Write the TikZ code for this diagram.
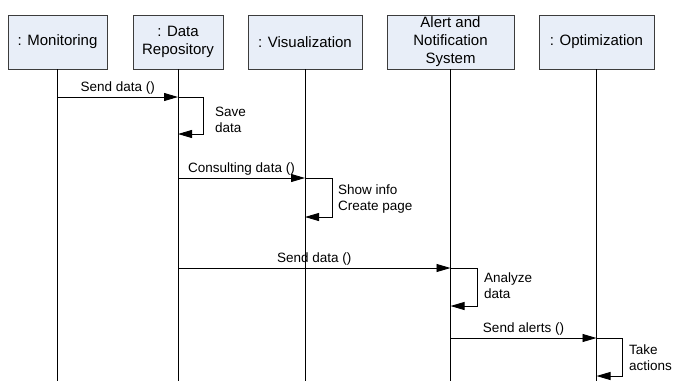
\documentclass[tikz,border=0pt]{standalone}
\usepackage{fontspec}
\setmainfont{Liberation Sans}
\usetikzlibrary{arrows.meta,positioning}
\definecolor{objfill}{RGB}{232,238,248}
\definecolor{objline}{RGB}{60,60,60}

\begin{document}
\begin{tikzpicture}[x=1pt, y=-1pt, >={Triangle[length=14pt,width=8pt]},
  obj/.style={draw=objline,fill=objfill,line width=0.9pt,minimum height=54pt,
              inner sep=2pt,align=center,font=\fontsize{15}{18}\selectfont},
  life/.style={line width=0.9pt},
  msg/.style={->,line width=0.9pt},
  lbl/.style={font=\fontsize{13.5}{16}\selectfont,inner sep=2pt},
  note/.style={lbl,align=left,anchor=west}]
  \useasboundingbox (0,0) rectangle (674,381);
  \node[obj,minimum width=99pt]  (mon)   at (57.5,42) {: Monitoring};
  \node[obj,minimum width=90pt]  (repo)  at (178,42)  {: Data\\Repository};
  \node[obj,minimum width=114pt] (vis)   at (305,42)  {: Visualization};
  \node[obj,minimum width=127pt] (alert) at (450.5,42) {Alert and\\Notification\\System};
  \node[obj,minimum width=115pt] (opt)   at (596.5,42) {: Optimization};
  \foreach \o in {mon,repo,vis,alert,opt}
    \draw[life] (\o.south) -- (\o.south |- 0,381);
  \coordinate (m1) at (mon.south |- 0,97);
  \coordinate (r1) at (repo.south |- 0,97);
  \coordinate (r2) at (repo.south |- 0,134);
  \coordinate (r3) at (repo.south |- 0,178);
  \coordinate (r4) at (repo.south |- 0,268);
  \coordinate (v1) at (vis.south |- 0,178);
  \coordinate (v2) at (vis.south |- 0,217);
  \coordinate (a1) at (alert.south |- 0,268);
  \coordinate (a2) at (alert.south |- 0,306);
  \coordinate (a3) at (alert.south |- 0,338);
  \coordinate (o1) at (opt.south |- 0,338);
  \coordinate (o2) at (opt.south |- 0,376);
  \draw[msg] (m1) -- (r1) node[lbl,midway,above] {Send data ()};
  \draw[msg] (r1) -- ++(25,0) |- (r2);
  \node[note] (save) at (213,119.5) {Save\\data};
  \draw[msg] (r3) -- (v1) node[lbl,midway,above] {Consulting data ()};
  \draw[msg] (v1) -- ++(27,0) |- (v2);
  \node[note] (show) at (336,199.5) {Show info\\Create page};
  \draw[msg] (r4) -- (a1) node[lbl,midway,above] {Send data ()};
  \draw[msg] (a1) -- ++(27,0) |- (a2);
  \node[note] (anal) at (482,285.5) {Analyze\\data};
  \draw[msg] (a3) -- (o1) node[lbl,midway,above] {Send alerts ()};
  \draw[msg] (o1) -- ++(26,0) |- (o2);
  \node[note] (take) at (627,357.5) {Take\\actions};
\end{tikzpicture}
\end{document}
